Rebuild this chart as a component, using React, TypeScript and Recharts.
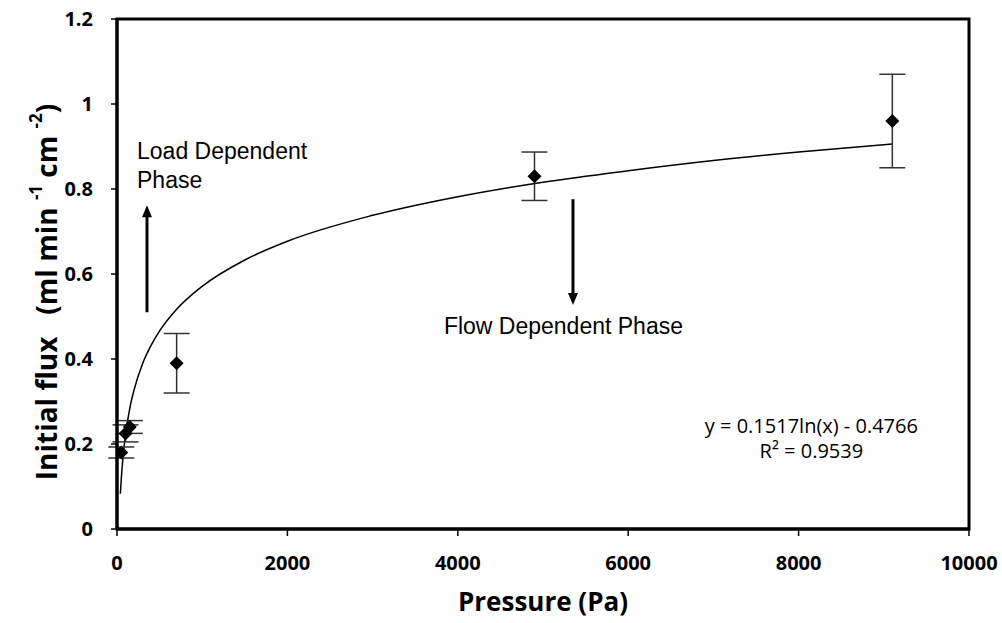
import { ComposedChart, Line, Scatter, ErrorBar, XAxis, YAxis, ReferenceArea, ReferenceLine, ReferenceDot } from 'recharts'

// measured points (Pa, initial flux) with +/- error
const pressure = [50, 100, 150, 700, 4900, 9100]
const flux = [0.18, 0.225, 0.24, 0.39, 0.83, 0.96]
const fluxErr = [0.013, 0.02, 0.015, 0.07, 0.057, 0.11]

// log trendline
const trendX = [40, 50, 70, 100, 150, 200, 300, 400, 500, 700, 1000, 1500, 2000, 3000, 4000, 5000, 6000, 7000, 8000, 9100]
const trendY = [0.083, 0.117, 0.168, 0.222, 0.284, 0.327, 0.389, 0.432, 0.466, 0.517, 0.571, 0.633, 0.677, 0.738, 0.782, 0.816, 0.843, 0.867, 0.887, 0.906]

const xTicks = [0, 2000, 4000, 6000, 8000, 10000]
const yTicks = [0, 0.2, 0.4, 0.6, 0.8, 1, 1.2]

const points = pressure.map((x, i) => ({ x, y: flux[i], err: fluxErr[i] }))
const trend = trendX.map((x, i) => ({ x, y: trendY[i] }))

const TICK_FONT = { fontFamily: 'Open Sans', fontWeight: 700, fontSize: 20, fill: '#000' }
const NOTE_FONT = 'Liberation Sans, Arial, sans-serif'

const diamond = (p: any) => {
  const { cx, cy } = p
  const r = 7
  return <polygon points={`${cx},${cy - r} ${cx + r},${cy} ${cx},${cy + r} ${cx - r},${cy}`} fill="#000" />
}

const arrowUp = (p: any) => {
  const { x1, y1, x2, y2 } = p
  const top = Math.min(y1, y2)
  const bot = Math.max(y1, y2)
  return (
    <g>
      <line x1={x1} x2={x2} y1={bot} y2={top + 10} stroke="#000" strokeWidth={3} />
      <polygon points={`${x1 - 5},${top + 12} ${x1 + 5},${top + 12} ${x1},${top}`} fill="#000" />
    </g>
  )
}

const arrowDown = (p: any) => {
  const { x1, y1, x2, y2 } = p
  const top = Math.min(y1, y2)
  const bot = Math.max(y1, y2)
  return (
    <g>
      <line x1={x1} x2={x2} y1={top} y2={bot - 10} stroke="#000" strokeWidth={3} />
      <polygon points={`${x1 - 5},${bot - 12} ${x1 + 5},${bot - 12} ${x1},${bot}`} fill="#000" />
    </g>
  )
}

const note = (lines: string[], anchor: 'start' | 'middle', size: number, family: string, gap: number) => (p: any) => (
  <text x={p.cx} y={p.cy} textAnchor={anchor} fontFamily={family} fontSize={size} fill="#000">
    {lines.map((l, i) => (
      <tspan key={i} x={p.cx} dy={i === 0 ? 0 : gap}>{l}</tspan>
    ))}
  </text>
)

const YTitle = (props: any) => {
  const vb = props.viewBox
  const cx = vb.x + 46
  const cy = vb.y + vb.height / 2 + 18
  return (
    <text x={cx} y={cy} transform={`rotate(-90 ${cx} ${cy})`} textAnchor="middle" dominantBaseline="central"
      fontFamily="Open Sans" fontWeight={700} fontSize={28} fill="#000">
      <tspan>Initial flux</tspan>
      <tspan dx={22}>(ml min </tspan>
      <tspan fontSize={17} dy={-11}>-1</tspan>
      <tspan dy={11}> cm </tspan>
      <tspan fontSize={17} dy={-11}>-2</tspan>
      <tspan dy={11}>)</tspan>
    </text>
  )
}

export default function App() {
  return (
    <div style={{ position: 'absolute', left: 0, top: 0, background: '#fff' }}>
      <ComposedChart width={1002} height={623} margin={{ top: 19, right: 33, bottom: 0, left: 0 }}>
        <XAxis type="number" dataKey="x" domain={[0, 10000]} ticks={xTicks} allowDataOverflow
          height={94} tick={TICK_FONT} tickSize={7} tickMargin={20}
          axisLine={{ stroke: '#000', strokeWidth: 3 }} tickLine={{ stroke: '#000', strokeWidth: 1.5 }}
          label={{ value: 'Pressure (Pa)', position: 'insideBottom', offset: 12, style: { fontFamily: 'Open Sans', fontWeight: 700, fontSize: 26, fill: '#000' } }} />
        <YAxis type="number" domain={[0, 1.2]} ticks={yTicks} width={117}
          tick={TICK_FONT} tickSize={6} tickMargin={18}
          axisLine={{ stroke: '#000', strokeWidth: 3 }} tickLine={{ stroke: '#000', strokeWidth: 1.5 }}
          label={{ content: YTitle }} />
        <ReferenceArea x1={0} x2={10000} y1={0} y2={1.2} fill="none" stroke="#000" strokeWidth={3} ifOverflow="visible" />
        <Line data={trend} dataKey="y" type="monotone" stroke="#000" strokeWidth={1.5} dot={false} isAnimationActive={false} />
        <Scatter data={points} dataKey="y" shape={diamond} isAnimationActive={false}>
          <ErrorBar dataKey="err" direction="y" width={13} stroke="#333" strokeWidth={1.5} />
        </Scatter>
        <ReferenceLine segment={[{ x: 352, y: 0.51 }, { x: 352, y: 0.762 }]} shape={arrowUp} ifOverflow="visible" />
        <ReferenceLine segment={[{ x: 5352, y: 0.776 }, { x: 5352, y: 0.527 }]} shape={arrowDown} ifOverflow="visible" />
        <ReferenceDot x={235} y={0.87} r={0} shape={note(['Load Dependent', 'Phase'], 'start', 23, NOTE_FONT, 29)} ifOverflow="visible" />
        <ReferenceDot x={5240} y={0.46} r={0} shape={note(['Flow Dependent Phase'], 'middle', 23, NOTE_FONT, 0)} ifOverflow="visible" />
        <ReferenceDot x={8150} y={0.225} r={0} shape={note(['y = 0.1517ln(x) - 0.4766', 'R\u00b2 = 0.9539'], 'middle', 20, 'Open Sans', 25)} ifOverflow="visible" />
      </ComposedChart>
    </div>
  )
}
